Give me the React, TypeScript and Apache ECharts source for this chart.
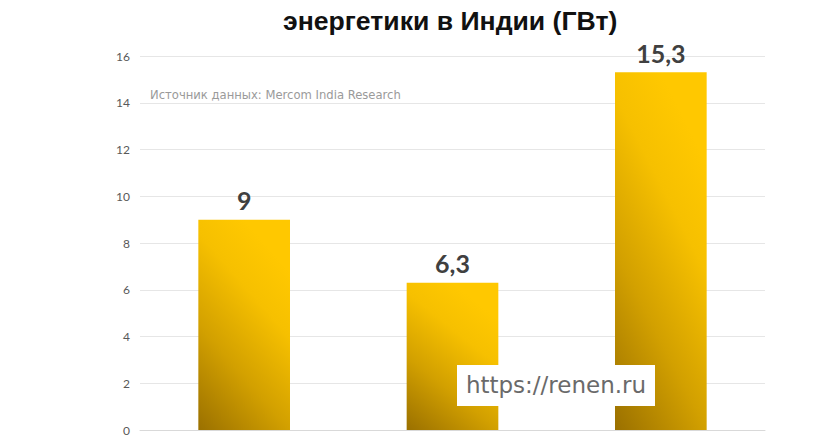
import React, { useEffect, useRef } from "react";
import * as echarts from "echarts";

const titleText = "энергетики в Индии (ГВт)";
const sourceText = "Источник данных: Mercom India Research";
const watermarkText = "https://renen.ru";
const categories = ["2017", "2018", "2019"];
const values = [9, 6.3, 15.3];

export default function App() {
  const ref = useRef<HTMLDivElement>(null);
  useEffect(() => {
    if (!ref.current) return;
    const chart = echarts.init(ref.current, null, { renderer: "svg" });
    const barColor = new echarts.graphic.LinearGradient(0, 1, 0.5, 0, [
      { offset: 0, color: "#9A7000" },
      { offset: 0.4, color: "#D2A000" },
      { offset: 0.75, color: "#F6C000" },
      { offset: 1, color: "#FFC800" },
    ]);
    chart.setOption({
      animation: false,
      backgroundColor: "#ffffff",
      title: {
        text: titleText,
        left: 278,
        top: 2,
        textStyle: {
          fontFamily: "Liberation Sans",
          fontWeight: "bold",
          fontSize: 26.6,
          color: "#111111",
        },
      },
      grid: { left: 140, right: 75, top: 56, bottom: 10, containLabel: false },
      xAxis: {
        type: "category",
        data: categories,
        axisLine: { show: true, lineStyle: { color: "#d9d9d9" } },
        axisTick: { show: false },
        axisLabel: { show: false },
      },
      yAxis: {
        type: "value",
        min: 0,
        max: 16,
        interval: 2,
        axisLine: { show: false },
        axisTick: { show: false },
        splitLine: { lineStyle: { color: "#e6e6e6" } },
        axisLabel: {
          color: "#595959",
          fontFamily: "Lato",
          fontSize: 12,
          margin: 10,
        },
      },
      series: [
        {
          type: "bar",
          data: values,
          barCategoryGap: "56%",
          itemStyle: { color: barColor },
          label: {
            show: true,
            position: "top",
            distance: 7,
            formatter: (p: any) => String(p.value).replace(".", ","),
            color: "#404040",
            fontFamily: "Lato",
            fontWeight: "bold",
            fontSize: 25,
          },
        },
      ],
      graphic: [
        {
          type: "text",
          left: 150,
          top: 89,
          z: 100,
          style: {
            text: sourceText,
            fill: "#9a9a9a",
            fontFamily: "DejaVu Sans",
            fontSize: 11.6,
          },
        },
        {
          type: "group",
          left: 457,
          top: 365,
          z: 100,
          children: [
            {
              type: "rect",
              z: 100,
              shape: { x: 0, y: 0, width: 198, height: 41 },
              style: { fill: "#ffffff" },
            },
            {
              type: "text",
              z: 101,
              x: 99,
              y: 20,
              style: {
                text: watermarkText,
                fill: "#6a6a6a",
                fontFamily: "DejaVu Sans",
                fontSize: 23,
                align: "center",
                verticalAlign: "middle",
              },
            },
          ],
        },
      ],
    });
    return () => chart.dispose();
  }, []);
  return (
    <div
      ref={ref}
      style={{ position: "fixed", left: 0, top: 0, width: 840, height: 440 }}
    />
  );
}
